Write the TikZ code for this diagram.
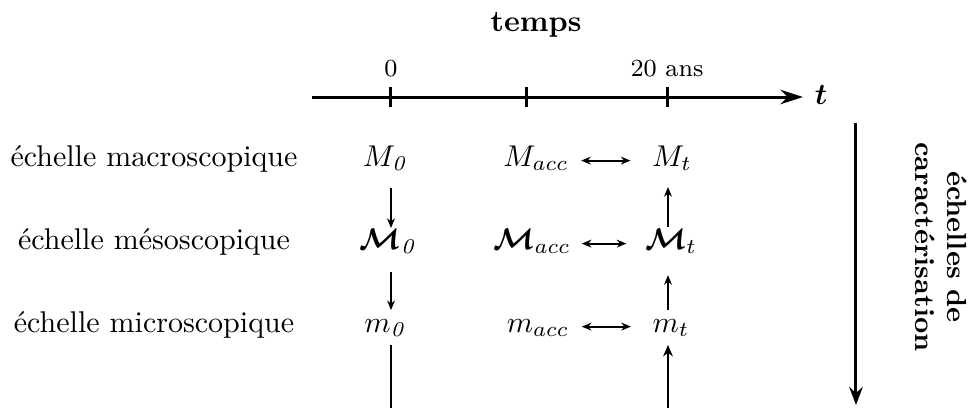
\documentclass[tikz,border=0pt]{standalone}
\usepackage{amsmath,bm}
\usetikzlibrary{arrows.meta}
\begin{document}
\begin{tikzpicture}[x=0.3333pt,y=-0.3333pt,
  lbl/.style={anchor=base,inner sep=0pt},
  ticklbl/.style={anchor=base,inner sep=0pt,font=\fontsize{8.2}{10}\selectfont},
  axis/.style={line width=1pt,-{Stealth[length=7.5pt,width=4.8pt,inset=2.4pt]}},
  tickmark/.style={line width=1pt},
  small/.style={line width=0.65pt,-{Stealth[length=3.2pt,width=2.6pt,inset=1pt]}},
  smallline/.style={line width=0.8pt},
  thickup/.style={line width=0.9pt,-{Stealth[length=3.8pt,width=3.2pt,inset=1.2pt]}},
  dbl/.style={line width=0.65pt,{Stealth[length=3.2pt,width=2.6pt,inset=1pt]}-{Stealth[length=3.2pt,width=2.6pt,inset=1pt]}}]
\useasboundingbox (0,0) rectangle (972,407);

% time axis
\coordinate (ax0) at (312,97);
\coordinate (ax1) at (803,97);
\draw[axis] (ax0) -- (ax1);
\coordinate (t0) at (391,97);
\coordinate (t1) at (527,97);
\coordinate (t2) at (668,97);
\foreach \c in {t0,t1,t2}{\draw[tickmark] ([yshift=3.3pt]\c) -- ([yshift=-3.3pt]\c);}
\node[ticklbl] (l0) at (391,76) {0};
\node[ticklbl] (l20) at (667,76) {20 ans};
\node[lbl,font=\bfseries] (temps) at (536,31) {temps};
\node[lbl] (tl) at (821,104) {$\bm{t}$};

% row labels
\node[lbl] (lmac) at (154,166) {échelle macroscopique};
\node[lbl] (lmes) at (154,249) {échelle mésoscopique};
\node[lbl] (lmic) at (154,332) {échelle microscopique};

% quantities
\node[lbl] (M0) at (386,166) {$M_{\mathit{0}}$};
\node[lbl] (Macc) at (536,166) {$M_{acc}$};
\node[lbl] (Mt) at (672,166) {$M_t$};
\node[lbl] (C0) at (389,249) {$\bm{\mathcal{M}}_{\mathit{0}}$};
\node[lbl] (Cacc) at (532,249) {$\bm{\mathcal{M}}_{acc}$};
\node[lbl] (Ct) at (671,249) {$\bm{\mathcal{M}}_t$};
\node[lbl] (m0) at (386,332) {$m_{\mathit{0}}$};
\node[lbl] (macc) at (538,332) {$m_{acc}$};
\node[lbl] (mt) at (671,332) {$m_t$};

% horizontal double arrows
\draw[dbl] ([xshift=4pt,yshift=1.8pt]Macc.base east) -- ([xshift=-7pt,yshift=1.8pt]Mt.base west);
\draw[dbl] ([xshift=3.5pt,yshift=1.8pt]Cacc.base east) -- ([xshift=-6pt,yshift=1.8pt]Ct.base west);
\draw[dbl] ([xshift=4pt,yshift=1.8pt]macc.base east) -- ([xshift=-7pt,yshift=1.8pt]mt.base west);

% vertical arrows, column 0
\draw[small] ([yshift=-7.3pt]M0.base -| t0) -- ([yshift=7pt]C0.base -| t0);
\draw[small] ([yshift=-7.7pt]C0.base -| t0) -- ([yshift=7.3pt]m0.base -| t0);
\coordinate (b0) at (391,430);
\draw[smallline] ([yshift=-4.3pt]m0.base -| t0) -- (b0);

% vertical arrows, column t
\draw[small] ([yshift=7.3pt]Ct.base -| t2) -- ([yshift=-7pt]Mt.base -| t2);
\draw[small] ([yshift=7.3pt]mt.base -| t2) -- ([yshift=-8.7pt]Ct.base -| t2);
\coordinate (b2) at (668,430);
\draw[thickup] (b2) -- ([yshift=-4.3pt]mt.base -| t2);

% scale axis
\coordinate (s0) at (856,123);
\coordinate (s1) at (856,405);
\draw[line width=1pt,-{Stealth[length=6pt,width=4.5pt,inset=2pt]}] (s0) -- (s1);
\node[rotate=-90,align=center,font=\fontsize{9.2}{10.6}\selectfont\bfseries,inner sep=0pt] (scl) at (941,247) {échelles de\\caractérisation};
\end{tikzpicture}
\end{document}
